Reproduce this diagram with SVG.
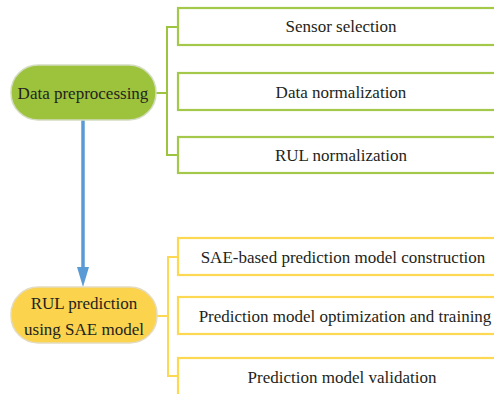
<svg xmlns="http://www.w3.org/2000/svg" width="494" height="394" viewBox="0 0 494 394">
<defs>
<style>
text{font-family:"Liberation Serif","Times New Roman",serif;font-size:17px;fill:#231f20;text-anchor:middle;dominant-baseline:central}
.gbox{fill:#fff;stroke:#a3c84a;stroke-width:2.2}
.ybox{fill:#fff;stroke:#fdd953;stroke-width:2.2}
.gl{fill:none;stroke:#9cc43e;stroke-width:2}
.yl{fill:none;stroke:#fdd953;stroke-width:2}
</style>
<marker id="ah" markerWidth="12" markerHeight="20" refX="6" refY="20" orient="auto" markerUnits="userSpaceOnUse" viewBox="0 0 12 20">
<path d="M0,0 L12,0 L6,20 Z" fill="#5b9bd5"/>
</marker>
</defs>
<g id="connectors">
<path class="gl" d="M155,93 H167 M178,27 H167 V155 H178"/>
<path class="yl" d="M157,316 H168 M178,257 H168 V376 H178"/>
<path d="M83,120 V267" stroke="#5b9bd5" stroke-width="3.5" fill="none"/>
<path d="M77,267 L89,267 L83,287 Z" fill="#5b9bd5"/>
</g>
<g id="n-preprocessing">
<rect x="11" y="65" width="145" height="55" rx="27" fill="#9dc33c" stroke="#d3dcc0" stroke-width="1.5"/>
<text x="83" y="93">Data preprocessing</text>
</g>
<g id="n-sensor">
<rect class="gbox" x="178" y="8" width="330" height="37"/>
<text x="341" y="26">Sensor selection</text>
</g>
<g id="n-datanorm">
<rect class="gbox" x="178" y="73" width="330" height="37"/>
<text x="341" y="92">Data normalization</text>
</g>
<g id="n-rulnorm">
<rect class="gbox" x="178" y="137" width="330" height="36"/>
<text x="341" y="155">RUL normalization</text>
</g>
<g id="n-rulpred">
<rect x="11" y="287" width="146" height="56" rx="27" fill="#fbd34d" stroke="#e4dcc0" stroke-width="1.5"/>
<text x="84" y="303">RUL prediction</text>
<text x="84" y="329">using SAE model</text>
</g>
<g id="n-construction">
<rect class="ybox" x="178" y="238" width="330" height="37"/>
<text x="343" y="257">SAE-based prediction model construction</text>
</g>
<g id="n-optimization">
<rect class="ybox" x="178" y="297" width="330" height="37"/>
<text x="345" y="316">Prediction model optimization and training</text>
</g>
<g id="n-validation">
<rect class="ybox" x="178" y="358" width="330" height="50"/>
<text x="342" y="377">Prediction model validation</text>
</g>
</svg>
